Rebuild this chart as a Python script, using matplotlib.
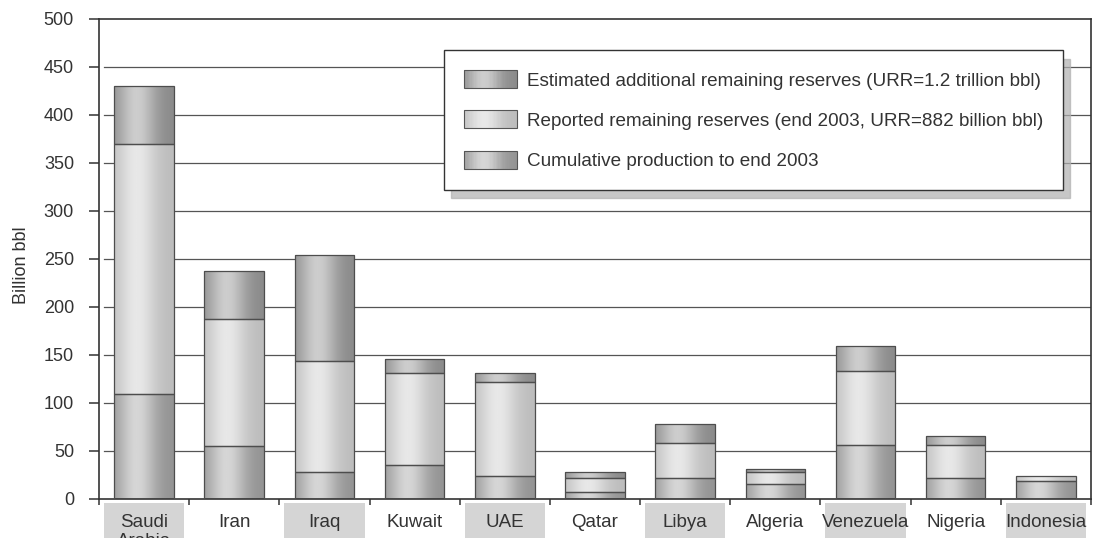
import matplotlib
matplotlib.use("Agg")
import matplotlib.pyplot as plt
import numpy as np
from matplotlib.patches import Rectangle
from matplotlib.legend_handler import HandlerBase
from matplotlib.colors import LinearSegmentedColormap
import matplotlib.transforms as mtransforms

plt.rcParams['font.family'] = ['Liberation Sans', 'DejaVu Sans']

countries = ["Saudi\nArabia", "Iran", "Iraq", "Kuwait", "UAE", "Qatar",
             "Libya", "Algeria", "Venezuela", "Nigeria", "Indonesia"]
# billion bbl, stacked bottom to top
cumulative = [109, 55, 28, 35, 24, 7, 22, 16, 56, 22, 19]
reported = [261, 132, 116, 96, 98, 15, 36, 12, 77, 34, 5]
additional = [60, 50, 110, 15, 9, 6, 20, 3, 26, 10, 0]

series_names = ["Cumulative production to end 2003",
                "Reported remaining reserves (end 2003, URR=882 billion bbl)",
                "Estimated additional remaining reserves (URR=1.2 trillion bbl)"]
# (edge shade, highlight shade) for the cylinder look
shades = [("#939393", "#d6d6d6"), ("#bcbcbc", "#e8e8e8"), ("#8a8a8a", "#cdcdcd")]

yticks = [0, 50, 100, 150, 200, 250, 300, 350, 400, 450, 500]


def cyl_profile(n=80):
    u = np.linspace(0, 1, n)
    return np.exp(-((u - 0.38) / 0.32) ** 2)


def make_cmap(lo, hi):
    return LinearSegmentedColormap.from_list("c", [lo, hi])


class GradientHandler(HandlerBase):
    def __init__(self, lo, hi):
        super().__init__()
        self.lo, self.hi = lo, hi

    def create_artists(self, legend, orig_handle, xdescent, ydescent, width,
                       height, fontsize, trans):
        cmap = make_cmap(self.lo, self.hi)
        prof = cyl_profile(40)
        arts = []
        w = width / len(prof)
        for i, p in enumerate(prof):
            r = Rectangle((-xdescent + i * w, -ydescent), w * 1.05, height,
                          facecolor=cmap(p), edgecolor='none', transform=trans)
            arts.append(r)
        arts.append(Rectangle((-xdescent, -ydescent), width, height,
                              facecolor='none', edgecolor='#555555', lw=0.8,
                              transform=trans))
        return arts


fig = plt.figure(figsize=(10.95, 5.38), dpi=100)
ax = fig.add_axes([0.0904, 0.0725, 0.9059, 0.8922])

x = np.arange(len(countries))
width = 0.66
grad = cyl_profile()[np.newaxis, :]

bottom = np.zeros(len(x))
handles = []
for vals, (lo, hi) in zip([cumulative, reported, additional], shades):
    bars = ax.bar(x, vals, width, bottom=bottom, facecolor='none',
                  edgecolor='#4d4d4d', linewidth=0.9, zorder=3)
    cmap = make_cmap(lo, hi)
    for patch in bars.patches:
        if patch.get_height() <= 0:
            patch.set_visible(False)
            continue
        x0 = patch.get_x()
        y0 = patch.get_y()
        im = ax.imshow(grad, cmap=cmap, vmin=0, vmax=1, aspect='auto',
                       interpolation='bilinear', zorder=2,
                       extent=[x0, x0 + patch.get_width(), y0, y0 + patch.get_height()])
        im.set_clip_path(patch)
    handles.append(bars)
    bottom = bottom + np.array(vals)

ax.set_xlim(-0.5, len(x) - 0.5)
ax.set_ylim(0, 500)
ax.set_yticks(yticks)
# grid starts a few pixels right of the left spine
for yv in yticks[1:-1]:
    ax.axhline(yv, xmin=0.005, xmax=1, color='#555555', linewidth=0.9, zorder=1)

ax.set_xticks(x)
ax.set_xticklabels(countries, fontsize=13.5, color='#333333', linespacing=1.1)
ax.set_xticks(np.arange(len(x) + 1) - 0.5, minor=True)
ax.tick_params(axis='x', which='major', length=0, pad=11)
ax.tick_params(axis='x', which='minor', length=4, width=1.1, color='#333333')
ax.tick_params(axis='y', length=7, width=1.1, color='#333333', labelsize=13,
               labelcolor='#333333', pad=11)

for s in ax.spines.values():
    s.set_color('#333333')
    s.set_linewidth(1.2)

# shaded boxes behind alternate country names
blend = mtransforms.blended_transform_factory(ax.transData, ax.transAxes)
for i in range(0, len(x), 2):
    ax.add_patch(Rectangle((i - 0.445, -0.0085), 0.89, -0.2, transform=blend,
                           facecolor='#d5d5d5', edgecolor='none', clip_on=False,
                           zorder=0))

fig.text(22 / 1095, (538 - 265) / 538, "Billion bbl", rotation=90, ha='center',
         va='center', fontsize=13, color='#333333')

leg_handles = [handles[2], handles[1], handles[0]]
leg_labels = [series_names[2], series_names[1], series_names[0]]
handler_map = {handles[2]: GradientHandler(*shades[2]),
               handles[1]: GradientHandler(*shades[1]),
               handles[0]: GradientHandler(*shades[0])}
leg = ax.legend(leg_handles, leg_labels, handler_map=handler_map,
                loc='upper right', bbox_to_anchor=(0.972, 0.935),
                borderaxespad=0, fontsize=13.6, handlelength=2.8,
                handleheight=1.1, labelspacing=1.1, handletextpad=0.55,
                borderpad=1.05, fancybox=False, framealpha=1,
                shadow={'color': '#b0b0b0', 'alpha': 0.7, 'ox': 5, 'oy': -6},
                labelcolor='#333333')
leg.get_frame().set_edgecolor('#333333')
leg.get_frame().set_linewidth(1.0)
leg.set_zorder(5)

fig.savefig("out.png", dpi=100)
